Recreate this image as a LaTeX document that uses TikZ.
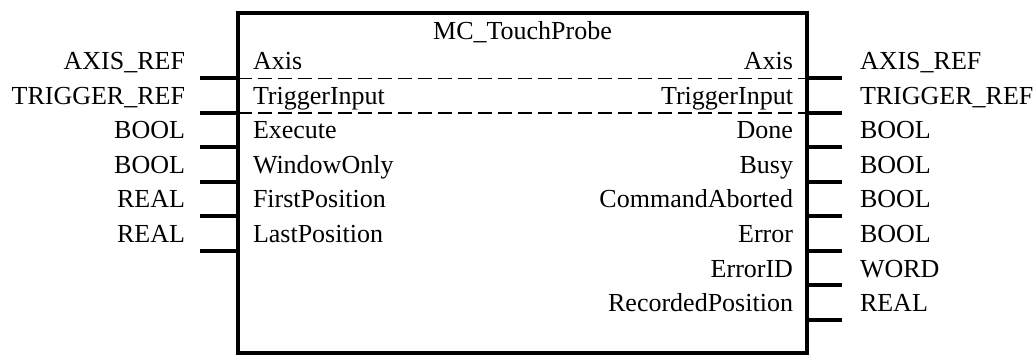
\documentclass[tikz,border=0pt]{standalone}
\usepackage{fontspec}
\setmainfont{Liberation Serif}
\begin{document}
\begin{tikzpicture}[x=0.75pt,y=-0.75pt,
  every node/.style={font=\fontsize{19.5}{22}\selectfont, inner sep=0pt, outer sep=0pt},
  fbox/.style={draw, line width=3pt, minimum width=426.75pt, minimum height=255pt},
  pinline/.style={line width=3pt},
  sep/.style={line width=1.2pt, dash pattern=on 10.5pt off 4.5pt},
  lt/.style={anchor=base east},
  ln/.style={anchor=base west},
  rn/.style={anchor=base east},
  rt/.style={anchor=base west}]
\useasboundingbox (0,0) rectangle (1036,356);

% function block body and title
\node[fbox] (fb) at (522.5,183) {};
\node[anchor=base] (title) at (522.5,40) {MC\_TouchProbe};

% input pins
\foreach \i/\ty/\nm in {0/AXIS\_REF/Axis, 1/TRIGGER\_REF/TriggerInput, 2/BOOL/Execute,
                        3/BOOL/WindowOnly, 4/REAL/FirstPosition, 5/REAL/LastPosition} {
  \coordinate (in\i) at (200,78.5+34.5*\i);
  \draw[pinline] (in\i) -- (in\i -| fb.west);
  \node[lt] (intype\i) at (185,70+34.5*\i) {\ty};
  \node[ln] (inname\i) at (253,70+34.5*\i) {\nm};
}

% output pins
\foreach \i/\ty/\nm in {0/AXIS\_REF/Axis, 1/TRIGGER\_REF/TriggerInput, 2/BOOL/Done,
                        3/BOOL/Busy, 4/BOOL/CommandAborted, 5/BOOL/Error,
                        6/WORD/ErrorID, 7/REAL/RecordedPosition} {
  \coordinate (out\i) at (842,78.5+34.5*\i);
  \draw[pinline] (out\i -| fb.east) -- (out\i);
  \node[rn] (outname\i) at (793,70+34.5*\i) {\nm};
  \node[rt] (outtype\i) at (860,70+34.5*\i) {\ty};
}

% in-out separators
\draw[sep] (in0 -| fb.west) -- (out0 -| fb.east);
\draw[sep] (in1 -| fb.west) -- (out1 -| fb.east);
\end{tikzpicture}
\end{document}
